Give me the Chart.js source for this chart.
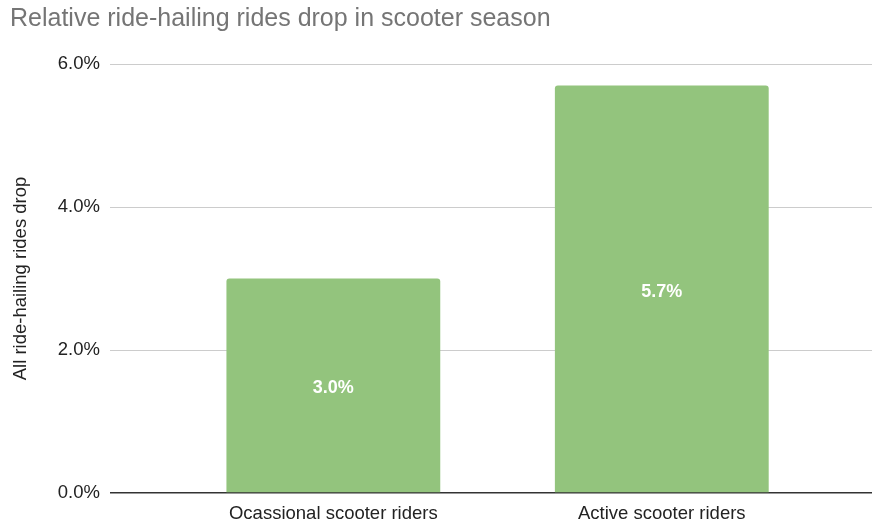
<!DOCTYPE html>
<html>
<head>
<meta charset="utf-8">
<script src="https://cdn.jsdelivr.net/npm/chart.js@4.4.1/dist/chart.umd.min.js"></script>
<style>
  html, body { margin: 0; padding: 0; background: #fff; }
  #wrap { width: 873px; height: 525px; }
</style>
</head>
<body>
<div id="wrap"><canvas id="grafico"></canvas></div>
<script>
const categorias = ['Ocassional scooter riders', 'Active scooter riders'];
const valores = [3.0, 5.7];
const ticksY = [0, 2, 4, 6];

const fuente = "'Liberation Sans', Arial, sans-serif";

// etiquetas blancas dentro de cada barra
const etiquetasBarras = {
    id: 'etiquetasBarras',
    afterDatasetsDraw(chart) {
        const ctx = chart.ctx;
        const meta = chart.getDatasetMeta(0);
        ctx.save();
        ctx.fillStyle = '#ffffff';
        ctx.font = 'bold 18px ' + fuente;
        ctx.textAlign = 'center';
        ctx.textBaseline = 'middle';
        meta.data.forEach((bar, i) => {
            const medio = (bar.y + bar.base) / 2 + 3;
            ctx.fillText(valores[i].toFixed(1) + '%', bar.x, medio);
        });
        ctx.restore();
    }
};

const ctx = document.getElementById('grafico').getContext('2d');
window.grafico = new Chart(ctx, {
    type: 'bar',
    data: {
        datasets: [{
            data: categorias.map((c, i) => ({ x: i, y: valores[i] })),
            backgroundColor: '#93c47d',
            borderRadius: { topLeft: 3, topRight: 3, bottomLeft: 0, bottomRight: 0 },
            borderSkipped: false,
            barPercentage: 0.651,
            categoryPercentage: 1
        }]
    },
    options: {
        responsive: true,
        maintainAspectRatio: false,
        animation: false,
        layout: { padding: { left: 10, right: 1, top: 0, bottom: 0 } },
        plugins: {
            legend: { display: false },
            tooltip: { enabled: false },
            title: {
                display: true,
                text: 'Relative ride-hailing rides drop in scooter season',
                align: 'start',
                color: '#757575',
                font: { family: fuente, size: 25, weight: 'normal' },
                padding: { top: 4, bottom: 30 }
            }
        },
        scales: {
            x: {
                type: 'linear',
                offset: false,
                min: -0.68,
                max: 1.64,
                afterBuildTicks: scale => {
                    scale.ticks = categorias.map((c, i) => ({ value: i }));
                },
                afterFit: scale => { scale.height = 32; },
                ticks: {
                    callback: v => categorias[v],
                    color: '#222222',
                    font: { family: fuente, size: 18.5 },
                    padding: 10,
                    maxRotation: 0,
                    autoSkip: false
                },
                grid: { display: false, drawTicks: false },
                border: { display: false }
            },
            y: {
                min: 0,
                max: 6,
                afterBuildTicks: scale => {
                    scale.ticks = ticksY.map(v => ({ value: v }));
                },
                afterFit: scale => { scale.width = 100; },
                ticks: {
                    callback: v => v.toFixed(1) + '%',
                    color: '#222222',
                    font: { family: fuente, size: 18.5 },
                    padding: 10
                },
                title: {
                    display: true,
                    text: 'All ride-hailing rides drop',
                    color: '#222222',
                    font: { family: fuente, size: 18.5 },
                    padding: { top: 0, bottom: 0 }
                },
                grid: {
                    drawTicks: false,
                    color: ctx => ctx.tick && ctx.tick.value === 0 ? '#333333' : '#cccccc',
                    lineWidth: ctx => ctx.tick && ctx.tick.value === 0 ? 1.5 : 1
                },
                border: { display: false }
            }
        }
    },
    plugins: [etiquetasBarras]
});
</script>
</body>
</html>
